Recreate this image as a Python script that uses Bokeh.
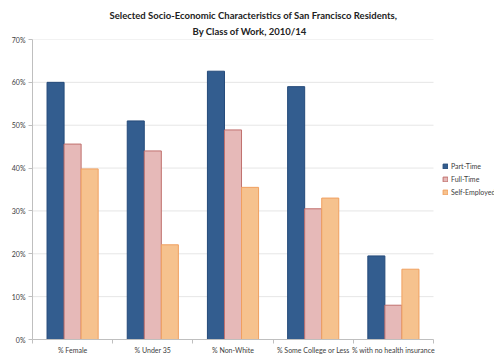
from bokeh.plotting import figure
from bokeh.models import (ColumnDataSource, FixedTicker, Range1d, Legend, LegendItem,
                          NumeralTickFormatter, Title)
from bokeh.embed import file_html
from bokeh.resources import INLINE

categories = ["% Female", "% Under 35", "% Non-White", "% Some College or Less", "% with no health insurance"]
part_time = [60.0, 51.0, 62.6, 59.0, 19.5]
full_time = [45.6, 44.0, 48.9, 30.5, 8.0]
self_employed = [39.8, 22.1, 35.5, 33.0, 16.4]
series_names = ["Part-Time", "Full-Time", "Self-Employed"]
y_ticks = [0.0, 0.1, 0.2, 0.3, 0.4, 0.5, 0.6, 0.7]
title_lines = ["Selected Socio-Economic Characteristics of San Francisco Residents,",
               "By Class of Work, 2010/14"]

FONT = "Lato"
n = len(categories)
w = 0.2125
xs = [i + 0.5 for i in range(n)]
src = ColumnDataSource(dict(x=xs, x1=[x - w for x in xs], x3=[x + w for x in xs],
                            pt=[v / 100 for v in part_time], ft=[v / 100 for v in full_time],
                            se=[v / 100 for v in self_employed]))

# frame extends right of the category area to host the legend
FW = 462
p = figure(frame_width=FW, frame_height=300, output_backend="svg", toolbar_location=None,
           x_range=Range1d(0, n * FW / 401), y_range=Range1d(0, 0.70),
           min_border_left=32, min_border_right=0, min_border_top=39, min_border_bottom=17)
p.outline_line_color = None
p.background_fill_color = "white"
p.xgrid.grid_line_color = None
p.ygrid.grid_line_color = None

# horizontal gridlines limited to the category area
gy = y_ticks[1:]
p.segment(x0=[0] * len(gy), x1=[n] * len(gy), y0=gy, y1=gy, line_color="#e6e6e6", line_width=1)

fills = ["#335d8f", "#e6b9b8", "#f6c28e"]
lines = ["#244a7a", "#c0706d", "#f0a060"]
r1 = p.vbar(x="x1", top="pt", width=w, source=src,
            fill_color=fills[0], line_color=lines[0], line_width=1)
r2 = p.vbar(x="x", top="ft", width=w, source=src,
            fill_color=fills[1], line_color=lines[1], line_width=1)
r3 = p.vbar(x="x3", top="se", width=w, source=src,
            fill_color=fills[2], line_color=lines[2], line_width=1)

# axes
p.xaxis.bounds = (0, n)
p.xaxis.ticker = FixedTicker(ticks=xs, minor_ticks=list(range(n + 1)))
p.xaxis.major_label_overrides = {x: c for x, c in zip(xs, categories)}
p.xaxis.major_tick_line_color = None
p.xaxis.major_tick_in = 0
p.xaxis.major_tick_out = 0
p.xaxis.minor_tick_in = 0
p.xaxis.minor_tick_out = 4
p.xaxis.minor_tick_line_color = "#bfbfbf"
p.xaxis.axis_line_color = "#bfbfbf"
p.xaxis.major_label_text_font = FONT
p.xaxis.major_label_text_font_size = "7px"
p.xaxis.major_label_text_color = "#404040"
p.xaxis.major_label_standoff = 2

p.yaxis.ticker = FixedTicker(ticks=y_ticks)
p.yaxis.formatter = NumeralTickFormatter(format="0%")
p.yaxis.axis_line_color = "#bfbfbf"
p.yaxis.major_tick_line_color = "#bfbfbf"
p.yaxis.major_tick_in = 0
p.yaxis.major_tick_out = 4
p.yaxis.minor_tick_line_color = None
p.yaxis.major_label_text_font = FONT
p.yaxis.major_label_text_font_size = "7px"
p.yaxis.major_label_text_color = "#404040"
p.yaxis.major_label_standoff = 3

legend = Legend(items=[LegendItem(label=series_names[0], renderers=[r1]),
                       LegendItem(label=series_names[1], renderers=[r2]),
                       LegendItem(label=series_names[2], renderers=[r3])],
                location=(410, 143), glyph_width=6, glyph_height=6, label_text_font=FONT,
                label_text_font_size="7px", label_text_color="#404040", spacing=5,
                label_height=8, padding=2, margin=0, border_line_color=None,
                background_fill_alpha=0, label_standoff=3)
p.add_layout(legend, "center")

p.title = Title(text=title_lines[0], align="left", offset=77, text_font=FONT,
                text_font_size="9.5px", text_font_style="bold", text_color="#222222", standoff=0)
p.add_layout(Title(text=title_lines[1], align="left", offset=160, text_font=FONT,
                   text_font_size="9.5px", text_font_style="bold", text_color="#222222",
                   standoff=6), "above")

open("out.html", "w").write(file_html(p, INLINE))
